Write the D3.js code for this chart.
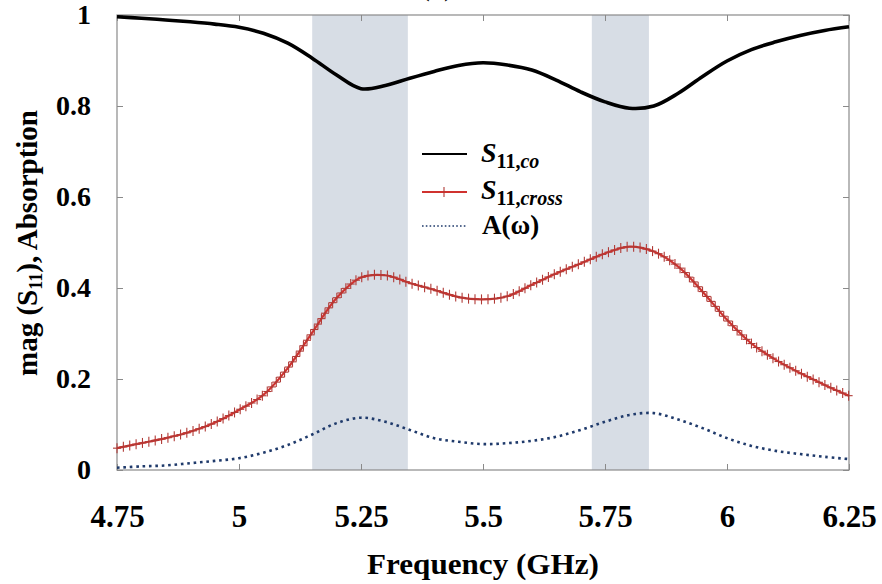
<!DOCTYPE html>
<html>
<head>
<meta charset="utf-8" />
<script src="https://d3js.org/d3.v7.min.js"></script>
<style>
  body { margin: 0; background: #fff; }
  svg { font-family: "Liberation Serif", "Times New Roman", serif; font-weight: bold; }
  .frame { fill: none; stroke: #8a8a8a; stroke-width: 1.2px; }
  .tick line { stroke: #8a8a8a; }
</style>
</head>
<body>
<svg width="882" height="584"></svg>
<script>
// frequency grid (GHz)
var freq = [4.75, 4.80, 4.85, 4.90, 4.95, 5.00, 5.05, 5.10, 5.15, 5.20, 5.25, 5.30, 5.35, 5.40, 5.45, 5.50,
            5.55, 5.60, 5.65, 5.70, 5.75, 5.80, 5.85, 5.90, 5.95, 6.00, 6.05, 6.10, 6.15, 6.20, 6.25];
var s11co = [0.996, 0.993, 0.989, 0.985, 0.980, 0.973, 0.960, 0.938, 0.905, 0.868, 0.838, 0.845, 0.861, 0.876, 0.889, 0.895,
             0.890, 0.879, 0.857, 0.831, 0.809, 0.795, 0.800, 0.828, 0.865, 0.899, 0.924, 0.941, 0.955, 0.966, 0.974];
var s11cross = [0.048, 0.059, 0.070, 0.084, 0.104, 0.132, 0.165, 0.224, 0.302, 0.378, 0.423, 0.428, 0.411, 0.396, 0.380, 0.375,
                0.382, 0.407, 0.432, 0.454, 0.476, 0.491, 0.480, 0.447, 0.392, 0.330, 0.278, 0.242, 0.213, 0.187, 0.163];
var absorb = [0.005, 0.008, 0.010, 0.015, 0.020, 0.026, 0.038, 0.055, 0.078, 0.103, 0.115, 0.106, 0.088, 0.070, 0.062, 0.057,
              0.059, 0.064, 0.073, 0.088, 0.106, 0.121, 0.125, 0.111, 0.092, 0.070, 0.053, 0.042, 0.035, 0.029, 0.024];
var bands = [[5.15, 5.346], [5.723, 5.84]];
var xTicks = [4.75, 5, 5.25, 5.5, 5.75, 6, 6.25];
var yTicks = [0, 0.2, 0.4, 0.6, 0.8, 1];

(function () {
var svg = d3.select('svg');
var pLeft = 117, pRight = 849, pTop = 15, pBottom = 470;

var x = d3.scaleLinear().domain([4.75, 6.25]).range([pLeft, pRight]);
var y = d3.scaleLinear().domain([0, 1]).range([pBottom, pTop]);

// shaded bands
svg.selectAll('.band')
  .data(bands)
  .enter().append('rect')
  .attr('class', 'band')
  .attr('x', function (d) { return x(d[0]); })
  .attr('y', pTop)
  .attr('width', function (d) { return x(d[1]) - x(d[0]); })
  .attr('height', pBottom - pTop)
  .attr('fill', '#d7dde5');

// axes (inner ticks, no domain line)
function axisStyle(g) {
  g.select('.domain').remove();
  g.selectAll('.tick line').attr('stroke', '#8a8a8a');
  g.selectAll('.tick text').attr('fill', '#000');
}
var fmt = function (d) { return String(d); };
svg.append('g').attr('transform', 'translate(0,' + pBottom + ')')
  .call(d3.axisBottom(x).tickValues(xTicks).tickSize(-6).tickPadding(35).tickFormat(fmt))
  .call(axisStyle)
  .selectAll('text').style('font-size', '31px').style('font-family', 'Liberation Serif').style('font-weight', 'bold');
svg.append('g').attr('transform', 'translate(0,' + pTop + ')')
  .call(d3.axisTop(x).tickValues(xTicks).tickSize(-6).tickFormat(''))
  .call(axisStyle);
svg.append('g').attr('transform', 'translate(' + pLeft + ',0)')
  .call(d3.axisLeft(y).tickValues(yTicks).tickSize(-6).tickPadding(26).tickFormat(fmt))
  .call(axisStyle)
  .selectAll('text').style('font-size', '28px').style('font-family', 'Liberation Serif').style('font-weight', 'bold');
svg.append('g').attr('transform', 'translate(' + pRight + ',0)')
  .call(d3.axisRight(y).tickValues(yTicks).tickSize(-6).tickFormat(''))
  .call(axisStyle);

svg.append('rect').attr('class', 'frame')
  .attr('x', pLeft).attr('y', pTop).attr('width', pRight - pLeft).attr('height', pBottom - pTop);

function series(vals) {
  return freq.map(function (f, i) { return [f, vals[i]]; });
}
var line = d3.line()
  .x(function (d) { return x(d[0]); })
  .y(function (d) { return y(d[1]); })
  .curve(d3.curveCatmullRom.alpha(0.5));

// A(w) dotted
svg.append('path')
  .attr('d', line(series(absorb)))
  .attr('fill', 'none').attr('stroke', '#1f3a6b').attr('stroke-width', 2.6)
  .attr('stroke-dasharray', '2.6 3.8');

// S11 cross with + markers
var crossPath = svg.append('path')
  .attr('d', line(series(s11cross)))
  .attr('fill', 'none').attr('stroke', '#d0322f').attr('stroke-width', 2.2);
var node = crossPath.node();
var len = node.getTotalLength();
var mk = svg.append('g').attr('stroke', '#b03a36').attr('stroke-width', 1.1);
for (var s = 0; s <= len; s += 6.5) {
  var p = node.getPointAtLength(s);
  mk.append('line').attr('x1', p.x - 4).attr('x2', p.x + 4).attr('y1', p.y).attr('y2', p.y);
  mk.append('line').attr('x1', p.x).attr('x2', p.x).attr('y1', p.y - 5).attr('y2', p.y + 5);
}

// S11 co
svg.append('path')
  .attr('d', line(series(s11co)))
  .attr('fill', 'none').attr('stroke', '#000').attr('stroke-width', 3.6);

// legend
var lg = svg.append('g');
lg.append('line').attr('x1', 422).attr('x2', 467).attr('y1', 154).attr('y2', 154)
  .attr('stroke', '#000').attr('stroke-width', 2.2);
lg.append('line').attr('x1', 422).attr('x2', 467).attr('y1', 192).attr('y2', 192)
  .attr('stroke', '#d0322f').attr('stroke-width', 2.2);
lg.append('line').attr('x1', 444).attr('x2', 444).attr('y1', 187).attr('y2', 197)
  .attr('stroke', '#b03a36').attr('stroke-width', 1.1);
lg.append('line').attr('x1', 422).attr('x2', 467).attr('y1', 226).attr('y2', 226)
  .attr('stroke', '#1f3a6b').attr('stroke-width', 1.6).attr('stroke-dasharray', '1.6 2.2');

function sLabel(yy, sub) {
  var t = lg.append('text').attr('x', 481).attr('y', yy).style('font-size', '28px');
  t.append('tspan').style('font-style', 'italic').text('S');
  t.append('tspan').attr('dy', 6).style('font-size', '20px').text('11,');
  t.append('tspan').style('font-size', '20px').style('font-style', 'italic').text(sub);
}
sLabel(162, 'co');
sLabel(199, 'cross');
lg.append('text').attr('x', 482).attr('y', 234).style('font-size', '27px').text('A(\u03c9)');

// axis titles
svg.append('text').attr('x', x(5.5)).attr('y', 574).attr('text-anchor', 'middle')
  .attr('textLength', 232).attr('lengthAdjust', 'spacingAndGlyphs')
  .style('font-size', '29px').text('Frequency (GHz)');
var yt = svg.append('text').attr('transform', 'translate(37,243) rotate(-90)').attr('text-anchor', 'middle')
  .style('font-size', '29px');
yt.append('tspan').text('mag (S');
yt.append('tspan').attr('dy', 5).style('font-size', '18px').text('11');
yt.append('tspan').attr('dy', -5).text('), Absorption');

// cropped panel label at the very top
svg.append('text').attr('x', 437).attr('y', -4).attr('text-anchor', 'middle')
  .style('font-size', '26px').text('(b)');
})();
</script>
</body>
</html>
